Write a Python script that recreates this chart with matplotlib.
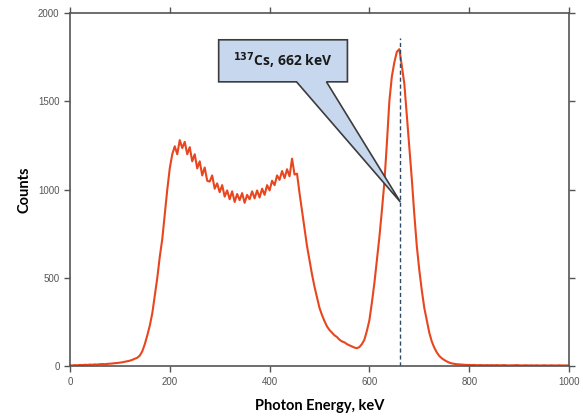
import matplotlib
matplotlib.use("Agg")
import matplotlib.pyplot as plt
from matplotlib.patches import Polygon

# Energy channels (keV), 5 keV step
energy_kev = list(range(0, 1001, 5))
counts = [
    5, 4, 6, 5, 7, 6, 8, 7, 9, 8,            # 0-45
    10, 9, 11, 12, 11, 13, 14, 15, 17, 18,   # 50-95
    20, 22, 25, 28, 31, 36, 42, 48, 60, 85,  # 100-145
    125, 175, 230, 300, 400, 500, 620, 720, 860, 1000,   # 150-195
    1120, 1200, 1245, 1200, 1280, 1235, 1270, 1200, 1240, 1160,  # 200-245
    1200, 1120, 1160, 1080, 1125, 1050, 1045, 1080, 1005, 1035,  # 250-295
    985, 1025, 960, 995, 945, 990, 930, 975, 940, 980,  # 300-345
    925, 970, 945, 990, 950, 995, 955, 1005, 970, 1025,  # 350-395
    995, 1050, 1025, 1080, 1055, 1105, 1065, 1115, 1075, 1175,  # 400-445
    1085, 1090, 980, 880, 780, 680, 600, 520, 450, 390,  # 450-495
    330, 290, 255, 225, 205, 190, 175, 165, 150, 140,  # 500-545
    135, 125, 118, 112, 105, 102, 108, 125, 150, 200,  # 550-595
    260, 360, 470, 600, 730, 880, 1040, 1260, 1500, 1640,  # 600-645
    1720, 1780, 1795, 1700, 1600, 1420, 1240, 1060, 860, 680,  # 650-695
    545, 430, 330, 260, 190, 140, 105, 78, 58, 45,  # 700-745
    35, 27, 20, 16, 13, 11, 10, 9, 8, 7,  # 750-795
    7, 6, 7, 5, 6, 6, 5, 6, 5, 6,  # 800-845
    5, 6, 5, 5, 6, 5, 4, 5, 5, 6,  # 850-895
    5, 4, 5, 5, 4, 5, 4, 5, 4, 4,  # 900-945
    5, 4, 4, 5, 4, 4, 5, 4, 4, 4,  # 950-995
    4,                              # 1000
]

peak_energy = 662
peak_label = r"$^{\mathbf{137}}$Cs, 662 keV"
dash_top = 1860

# callout geometry (data units)
box_x = [298, 556]
box_y = [1610, 1848]
pointer_base = [454, 514]
pointer_tip = (662, 930)

x_ticks = [0, 200, 400, 600, 800, 1000]
y_ticks = [0, 500, 1000, 1500, 2000]

plt.rcParams['font.family'] = ['Lato', 'DejaVu Sans']

fig = plt.figure(figsize=(5.83, 4.18), dpi=100)
ax = fig.add_axes([0.12, 0.124, 0.856, 0.845])

ax.plot(energy_kev, counts, color="#e8461e", lw=1.5)

ax.vlines(peak_energy, 0, dash_top, colors="#2e4a66", linestyles=(0, (3, 2)), lw=1.0)

verts = [(box_x[0], box_y[1]), (box_x[1], box_y[1]), (box_x[1], box_y[0]),
         (pointer_base[1], box_y[0]), pointer_tip, (pointer_base[0], box_y[0]),
         (box_x[0], box_y[0])]
ax.add_patch(Polygon(verts, closed=True, facecolor="#c7d7ee", edgecolor="#3c3c3c", lw=1.2, zorder=5))
ax.text((box_x[0] + box_x[1]) / 2, (box_y[0] + box_y[1]) / 2, peak_label,
        ha="center", va="center", fontsize=10, fontweight="bold", color="#1a1a1a", zorder=6,
        family="Open Sans")

ax.set_xlim(0, 1000)
ax.set_ylim(0, 2000)
ax.set_xticks(x_ticks)
ax.set_yticks(y_ticks)

for s in ax.spines.values():
    s.set_color("#555555")
    s.set_linewidth(1.2)

ax.tick_params(direction="out", length=4, width=1.0, color="#555555",
               labelsize=7, labelcolor="#555555", top=True, right=True)
for lbl in ax.get_xticklabels() + ax.get_yticklabels():
    lbl.set_family("Liberation Sans")

ax.set_xlabel("Photon Energy, keV", fontsize=10.5, fontweight="bold", labelpad=9)
ax.set_ylabel("Counts", fontsize=10.5, fontweight="bold", labelpad=5)

fig.savefig("out.png", dpi=100)
